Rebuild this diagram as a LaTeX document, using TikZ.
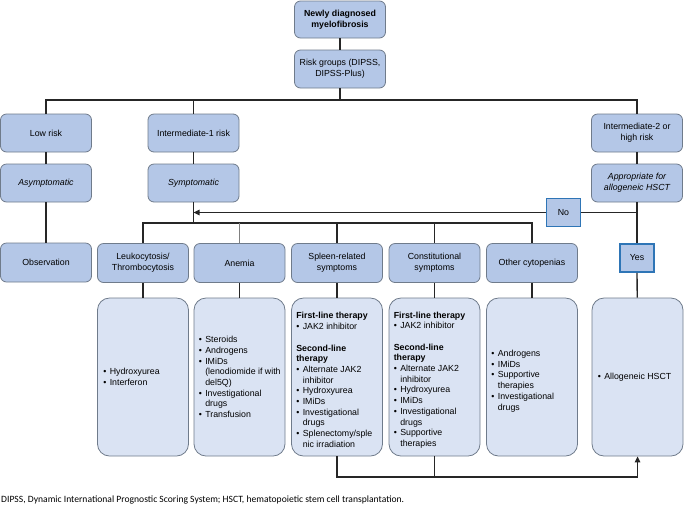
\documentclass[tikz,border=0pt]{standalone}
\usepackage{fontspec}
\setmainfont{Liberation Sans}
\newfontfamily\capfont{Carlito}
\usetikzlibrary{arrows.meta}
\definecolor{boxfill}{HTML}{B4C7E7}
\definecolor{lightfill}{HTML}{DAE3F3}
\definecolor{boxline}{HTML}{6F7B8B}
\definecolor{connc}{HTML}{262626}
\definecolor{decline}{HTML}{2E75B6}
\newcommand\itm[1]{\makebox[6.5pt][l]{\textbullet}#1}
\newcommand\cnt[1]{\hspace*{6.5pt}#1}
\begin{document}
\begin{tikzpicture}[x=1pt,y=-1pt,
  font=\fontsize{8.8}{10.7}\selectfont,
  box/.style={draw=boxline, fill=boxfill, rounded corners=6pt, line width=0.8pt,
    minimum width=91pt, minimum height=38pt, align=center, inner sep=2pt},
  tall/.style={draw=boxline, fill=lightfill, rounded corners=12pt, line width=0.8pt,
    minimum width=91pt, minimum height=158pt},
  dec/.style={draw=decline, fill=boxfill, line width=1.8pt,
    minimum width=34pt, minimum height=28pt, inner sep=1pt},
  conn/.style={draw=connc, line width=1.3pt},
  arr/.style={conn, -{Triangle[length=6pt,width=5.5pt]}},
  list/.style={anchor=west, align=left, inner sep=0pt}]
\useasboundingbox (0,0) rectangle (684,507);

% top
\node[box, font=\fontsize{8.8}{10.7}\selectfont\bfseries, minimum height=37pt] (top) at (340,19.5) {Newly diagnosed\\myelofibrosis};
\node[box] (risk) at (340,69) {Risk groups (DIPSS,\\DIPSS-Plus)};

% risk level
\node[box] (low) at (46,133) {Low risk};
\node[box] (int1) at (193.5,133) {Intermediate-1 risk};
\node[box] (int2) at (637,133) {Intermediate-2 or\\high risk};

\node[box, font=\fontsize{8.8}{10.7}\selectfont\itshape] (asym) at (46,183) {Asymptomatic};
\node[box, font=\fontsize{8.8}{10.7}\selectfont\itshape] (symp) at (193.5,183) {Symptomatic};
\node[box, font=\fontsize{8.8}{10.7}\selectfont\itshape] (appr) at (637,183) {Appropriate for\\allogeneic HSCT};

% symptom categories
\node[box, minimum height=39pt] (obs) at (46,262.5) {Observation};
\node[box, minimum height=39pt] (leuko) at (143,263) {Leukocytosis/\\Thrombocytosis};
\node[box, minimum height=39pt] (anemia) at (239.5,263) {Anemia};
\node[box, minimum height=39pt] (spleen) at (337,263) {Spleen-related\\symptoms};
\node[box, minimum height=39pt] (const) at (434.5,263) {Constitutional\\symptoms};
\node[box, minimum height=39pt] (other) at (532,263) {Other cytopenias};

\node[dec] (no) at (563.5,212.5) {No};
\node[dec] (yes) at (637,258) {Yes};

% therapy boxes
\node[tall] (leukob) at (143,377) {};
\node[tall] (anemiab) at (239.5,377) {};
\node[tall] (spleenb) at (337,377) {};
\node[tall] (constb) at (434.5,377) {};
\node[tall] (otherb) at (532,377) {};
\node[tall] (allob) at (637.5,377) {};

\node[list] (leukot) at ([xshift=6pt]leukob.west) {\itm{Hydroxyurea}\\\itm{Interferon}};
\node[list] (anemiat) at ([xshift=5pt]anemiab.west) {\itm{Steroids}\\\itm{Androgens}\\\itm{IMiDs}\\\cnt{(lenodiomide if with}\\\cnt{del5Q)}\\\itm{Investigational}\\\cnt{drugs}\\\itm{Transfusion}};
\node[list] (spleent) at ([xshift=5pt,yshift=-3pt]spleenb.west) {\textbf{First-line therapy}\\\itm{JAK2 inhibitor}\\[10.7pt]\textbf{Second-line}\\\textbf{therapy}\\\itm{Alternate JAK2}\\\cnt{inhibitor}\\\itm{Hydroxyurea}\\\itm{IMiDs}\\\itm{Investigational}\\\cnt{drugs}\\\itm{Splenectomy/sple}\\\cnt{nic irradiation}};
\node[list] (constt) at ([xshift=5pt,yshift=-3pt]constb.west) {\textbf{First-line therapy}\\\itm{JAK2 inhibitor}\\[10.7pt]\textbf{Second-line}\\\textbf{therapy}\\\itm{Alternate JAK2}\\\cnt{inhibitor}\\\itm{Hydroxyurea}\\\itm{IMiDs}\\\itm{Investigational}\\\cnt{drugs}\\\itm{Supportive}\\\cnt{therapies}};
\node[list] (othert) at ([xshift=5pt,yshift=-4pt]otherb.west) {\itm{Androgens}\\\itm{IMiDs}\\\itm{Supportive}\\\cnt{therapies}\\\itm{Investigational}\\\cnt{drugs}};
\node[list] (allot) at ([xshift=6pt]allob.west) {\itm{Allogeneic HSCT}};

% connectors
\coordinate (hb) at (340,100);
\coordinate (sb) at (193.5,223);
\coordinate (bb) at (337,477);
\draw[conn] (top) -- (risk);
\draw[conn] (risk.south) -- (hb);
\draw[conn] (low.north) -- (low.north |- hb) -- (int2.north |- hb) -- (int2.north);
\draw[conn] (int1.north) -- (int1.north |- hb);
\draw[conn] (low) -- (asym);
\draw[conn] (asym) -- (obs);
\draw[conn] (int1) -- (symp);
\draw[conn] (int2) -- (appr);
\draw[conn] (symp.south) -- (sb);
\draw[conn] (leuko.north) -- (leuko.north |- sb) -- (other.north |- sb) -- (other.north);
\draw[conn, draw=gray] (anemia.north) -- (anemia.north |- sb);
\draw[conn] (spleen.north) -- (spleen.north |- sb);
\draw[conn] (const.north) -- (const.north |- sb);
\draw[conn] (appr.south) -- (yes.north);
\draw[conn] (appr.south |- no) -- (no.east);
\draw[arr] (no.west) -- (symp.south |- no);
\draw[conn] (yes) -- (allob);
\draw[conn] (leuko) -- (leukob);
\draw[conn] (anemia) -- (anemiab);
\draw[conn] (spleen) -- (spleenb);
\draw[conn] (const) -- (constb);
\draw[conn] (other) -- (otherb);
\draw[arr] (spleenb.south) -- (bb) -- (allob.south |- bb) -- (allob.south);
\draw[conn] (constb.south) -- (constb.south |- bb);

% caption
\node[anchor=west, inner sep=0pt, font=\capfont\fontsize{9.6}{11}\selectfont] (cap) at (1,500) {DIPSS, Dynamic International Prognostic Scoring System; HSCT, hematopoietic stem cell transplantation.};
\end{tikzpicture}
\end{document}
